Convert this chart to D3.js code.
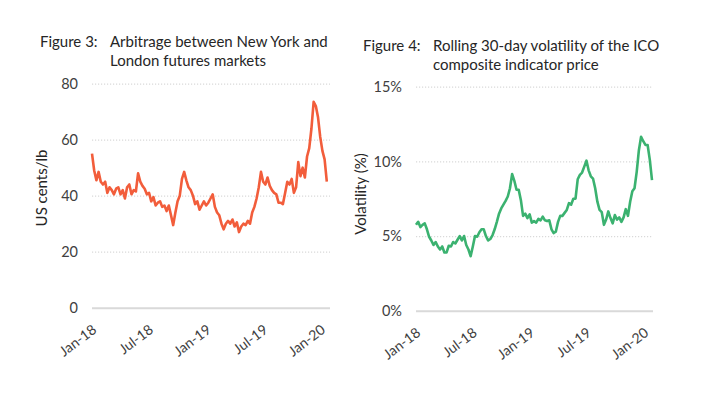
<!DOCTYPE html>
<html>
<head>
<meta charset="utf-8">
<script src="https://cdnjs.cloudflare.com/ajax/libs/d3/7.8.5/d3.min.js"></script>
<style>
body { margin: 0; background: #fff; }
svg text { font-family: Lato, "Open Sans", sans-serif; }
</style>
</head>
<body>
<div id="canvas"></div>
<script>
// weekly observations
const dates = [
  "2018-01-01","2018-01-08","2018-01-15","2018-01-22","2018-01-29","2018-02-05","2018-02-12","2018-02-19","2018-02-26",
  "2018-03-05","2018-03-12","2018-03-19","2018-03-26","2018-04-02","2018-04-09","2018-04-16","2018-04-23","2018-04-30",
  "2018-05-07","2018-05-14","2018-05-21","2018-05-28","2018-06-04","2018-06-11","2018-06-18","2018-06-25","2018-07-02",
  "2018-07-09","2018-07-16","2018-07-23","2018-07-30","2018-08-06","2018-08-13","2018-08-20","2018-08-27","2018-09-03",
  "2018-09-10","2018-09-17","2018-09-24","2018-10-01","2018-10-08","2018-10-15","2018-10-22","2018-10-29","2018-11-05",
  "2018-11-12","2018-11-19","2018-11-26","2018-12-03","2018-12-10","2018-12-17","2018-12-24","2018-12-31","2019-01-07",
  "2019-01-14","2019-01-21","2019-01-28","2019-02-04","2019-02-11","2019-02-18","2019-02-25","2019-03-04","2019-03-11",
  "2019-03-18","2019-03-25","2019-04-01","2019-04-08","2019-04-15","2019-04-22","2019-04-29","2019-05-06","2019-05-13",
  "2019-05-20","2019-05-27","2019-06-03","2019-06-10","2019-06-17","2019-06-24","2019-07-01","2019-07-08","2019-07-15",
  "2019-07-22","2019-07-29","2019-08-05","2019-08-12","2019-08-19","2019-08-26","2019-09-02","2019-09-09","2019-09-16",
  "2019-09-23","2019-09-30","2019-10-07","2019-10-14","2019-10-21","2019-10-28","2019-11-04","2019-11-11","2019-11-18",
  "2019-11-25","2019-12-02","2019-12-09","2019-12-16","2019-12-23","2019-12-30","2020-01-06","2020-01-13","2020-01-20",
  "2020-01-27"
];

// Figure 3: New York - London arbitrage, US cents/lb
const arbitrage = [
  55, 49, 45.5, 48.5, 45, 44, 45, 41, 43,
  42, 40.5, 42.5, 43, 40.5, 42, 39, 43, 44,
  40.5, 42, 41.5, 48, 45, 43.5, 42.5, 40.5, 41,
  38, 39.5, 36.5, 37.5, 38, 36, 36.5, 34.5, 36.5,
  33, 29.5, 34, 38, 40, 46, 48.5, 45.5, 43,
  42, 40, 37, 38, 35, 36.5, 38, 36.5, 37.5,
  39, 40.5, 36, 34, 33, 30, 28, 30, 31,
  30, 31.5, 29, 30.5, 27, 29, 30, 29.5, 31,
  30, 34, 36, 39, 43, 48.5, 45, 44, 46.5,
  43.5, 42, 41, 40.5, 37.5, 37.5, 37, 41, 45,
  44, 46, 41, 43, 52, 47, 50, 46.5, 54,
  57, 64, 73.5, 72, 68, 61, 56, 53, 45
];

// Figure 4: rolling 30-day volatility, %
const volatility = [
  5.75, 5.95, 5.6, 5.75, 5.85, 5.45, 4.95, 4.7, 4.4,
  4.6, 4.3, 4.1, 4.3, 3.9, 3.9, 4.35, 4.3, 4.6,
  4.5, 4.75, 5.0, 4.7, 5.0, 4.4, 4.1, 3.65, 4.3,
  5.0, 4.95, 5.25, 5.45, 5.45, 5.0, 4.7, 4.8, 5.05,
  5.45, 5.95, 6.5, 6.85, 7.1, 7.35, 7.65, 8.2, 9.15,
  8.7, 8.1, 8.1, 7.4, 6.35, 6.5, 6.2, 6.45, 5.9,
  6.0, 5.9, 6.15, 6.05, 6.3, 6.05, 6.0, 6.05, 5.45,
  5.2, 5.3, 5.95, 6.35, 6.35, 6.55, 6.75, 7.2, 7.1,
  7.5, 7.5, 8.8, 9.1, 9.25, 9.65, 10.05, 9.4, 9.0,
  8.85, 8.2, 7.3, 6.75, 6.6, 5.75, 6.1, 6.65, 6.2,
  5.85, 6.4, 6.1, 6.25, 5.95, 6.25, 6.8, 6.35, 7.3,
  8.0, 8.2, 9.3, 10.75, 11.65, 11.35, 11.1, 11.1, 10.1,
  8.75
];

const tickDates = ["2018-01-01", "2018-07-01", "2019-01-01", "2019-07-01", "2020-01-01"];
const tickLabels = ["Jan-18", "Jul-18", "Jan-19", "Jul-19", "Jan-20"];
const arbTicks = [0, 20, 40, 60, 80];
const volTicks = [0, 5, 10, 15];

const parse = d3.timeParse("%Y-%m-%d");

const svg = d3.select("#canvas").append("svg")
  .attr("width", 714)
  .attr("height", 399);

function drawChart(opts) {
  const data = opts.values.map((v, i) => ({ date: parse(dates[i]), value: v }));

  const x = d3.scaleTime()
    .domain([parse("2018-01-01"), parse("2020-01-27")])
    .range([opts.left, opts.right]);

  const y = d3.scaleLinear()
    .domain([0, opts.max])
    .range([opts.bottom, opts.top]);

  // gridlines + y labels
  const yAxis = svg.append("g")
    .attr("transform", `translate(${opts.left},0)`)
    .call(d3.axisLeft(y)
      .tickValues(opts.ticks)
      .tickSize(-(opts.right - opts.left + 1))
      .tickPadding(opts.pad)
      .tickFormat(opts.fmt));
  yAxis.select(".domain").remove();
  yAxis.selectAll(".tick line")
    .attr("stroke", "#d9d9d9")
    .attr("stroke-width", d => d === 0 ? 2 : 1.2)
    .attr("stroke-dasharray", d => d === 0 ? null : "1.2,1.8");
  yAxis.selectAll(".tick text")
    .attr("fill", "#404040")
    .style("font-size", "14.5px");

  // x labels
  const xAxis = svg.append("g")
    .attr("transform", `translate(0,${opts.bottom})`)
    .call(d3.axisBottom(x)
      .tickValues(tickDates.map(parse))
      .tickSize(0)
      .tickFormat((d, i) => tickLabels[i]));
  xAxis.select(".domain").remove();
  xAxis.selectAll(".tick text")
    .attr("x", 0).attr("y", 0).attr("dy", 0)
    .attr("text-anchor", "end")
    .attr("transform", "translate(5,24) rotate(-37)")
    .attr("fill", "#404040")
    .style("font-size", "14px");

  svg.append("path")
    .datum(data)
    .attr("fill", "none")
    .attr("stroke", opts.color)
    .attr("stroke-width", 2.6)
    .attr("stroke-linejoin", "round")
    .attr("d", d3.line().x(d => x(d.date)).y(d => y(d.value)));

  svg.append("text")
    .attr("transform", `translate(${opts.labelX},${opts.labelY}) rotate(-90)`)
    .attr("text-anchor", "middle")
    .attr("fill", "#262626")
    .style("font-size", "15px")
    .text(opts.label);

  svg.append("text")
    .attr("x", opts.figX).attr("y", opts.titleY)
    .attr("fill", "#262626")
    .style("font-size", "15px")
    .text(opts.fig);

  opts.title.forEach((t, i) => {
    svg.append("text")
      .attr("x", opts.titleX).attr("y", opts.titleY + i * 19)
      .attr("fill", "#262626")
      .style("font-size", "15px")
      .text(t);
  });
}

drawChart({
  values: arbitrage, max: 80, ticks: arbTicks, fmt: d => d,
  left: 92, right: 329, top: 83.7, bottom: 307.7, pad: 14,
  color: "#f25d3b",
  label: "US cents/lb", labelX: 47, labelY: 188,
  fig: "Figure 3:", figX: 40, titleX: 110, titleY: 46.5,
  title: ["Arbitrage between New York and", "London futures markets"]
});

drawChart({
  values: volatility, max: 15, ticks: volTicks, fmt: d => d + "%",
  left: 416, right: 652, top: 86.7, bottom: 310.7, pad: 14,
  color: "#3bb270",
  label: "Volatility (%)", labelX: 366, labelY: 194,
  fig: "Figure 4:", figX: 363, titleX: 433, titleY: 51,
  title: ["Rolling 30-day volatility of the ICO", "composite indicator price"]
});
</script>
</body>
</html>
